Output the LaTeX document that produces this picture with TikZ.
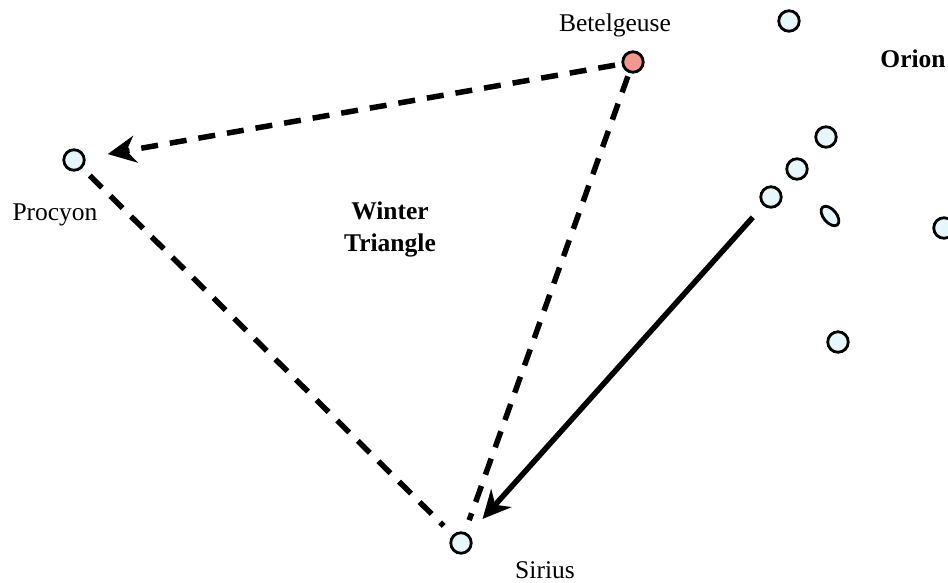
\documentclass[tikz,border=0pt]{standalone}
\usepackage{fontspec}
\setmainfont{Liberation Serif}
\usetikzlibrary{arrows.meta,shapes.geometric}
\definecolor{starfill}{HTML}{E6F7FC}
\definecolor{giantfill}{HTML}{F5968F}
\tikzset{
  stardot/.style={circle, draw=black, fill=#1, line width=2.8pt,
    minimum size=20.5pt, inner sep=0pt, outer sep=0pt},
  stardot/.default=starfill,
  starname/.style={font=\fontsize{25.5}{32}\selectfont, anchor=base},
  groupname/.style={font=\fontsize{25.5}{32}\selectfont\bfseries, anchor=base},
  link/.style={line width=5.5pt, dash pattern=on 17pt off 12pt},
  pointer/.style={line width=5.5pt, -{Stealth[length=28pt,width=27pt,inset=9pt]}}
}

\begin{document}
\begin{tikzpicture}[x=1pt, y=-1pt]

\useasboundingbox (0,0) rectangle (948,583);

%--- Winter Triangle ---

\node[stardot=giantfill] (betelgeuse) at (633,62)  {};
\node[stardot]           (procyon)    at (74,160)  {};
\node[stardot]           (sirius)     at (461,543) {};

%--- Orion (the rest of it) ---

\foreach \name/\x/\y in {head/789/21, belta/826/137, beltb/797/169,
                         beltc/771/197, shoulder/944/228, knee/838/342} {
  \node[stardot] (\name) at (\x,\y) {};
}
\node[ellipse, draw=black, fill=starfill, line width=2.8pt, inner sep=0pt,
      minimum width=23pt, minimum height=13pt, rotate=-50] (nebula) at (830,216) {};

% Names
\node[starname]  (betelgeuselabel) at (615,32)  {Betelgeuse};
\node[starname]  (procyonlabel)    at (55,220)  {Procyon};
\node[starname]  (siriuslabel)     at (545,578) {Sirius};
\node[groupname] (orionlabel)      at (913,68)  {Orion};
\node[groupname, align=center] (trianglelabel) at (390,251) {Winter\\Triangle};

%--- Connectors ---

\draw[link, shorten <=8pt, shorten >=24pt,
  -{Stealth[length=28pt,width=27pt,inset=9pt]}] (betelgeuse) -- (procyon);
\draw[link, shorten <=5pt,  shorten >=14pt] (betelgeuse) -- (sirius);
\draw[link, shorten <=12pt, shorten >=14pt] (procyon) -- (sirius);
\draw[pointer, shorten <=17pt, shorten >=22pt] (beltc) -- (sirius);

\end{tikzpicture}
\end{document}
